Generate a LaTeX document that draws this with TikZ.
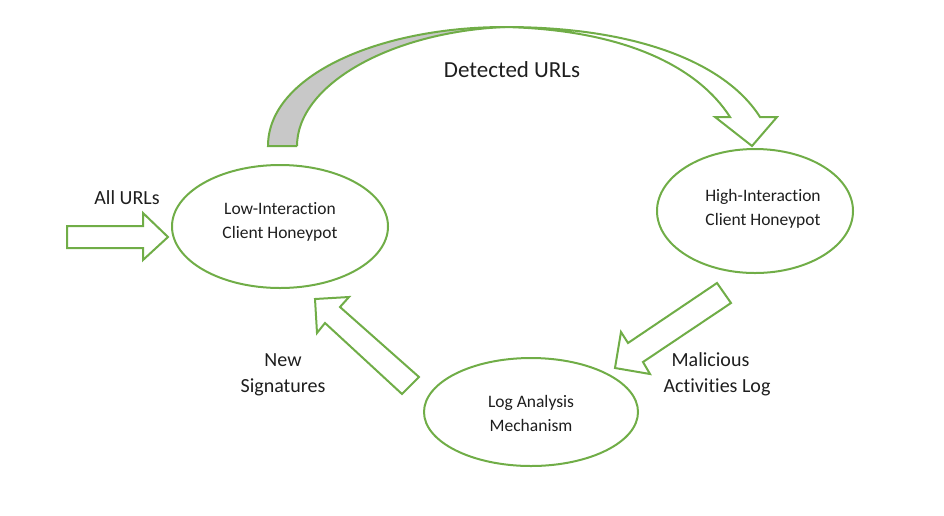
\documentclass[tikz,border=0pt]{standalone}
\usepackage{fontspec}
\setmainfont{Carlito}[Ligatures=CommonOff]
\usetikzlibrary{shapes.geometric}
\definecolor{grn}{RGB}{112,173,71}
\definecolor{shadegray}{RGB}{200,200,200}
\definecolor{txt}{RGB}{30,30,30}
\begin{document}
\begin{tikzpicture}[x=1pt,y=-1pt,
  ell/.style={draw=grn, line width=2pt, ellipse, inner sep=0pt},
  etext/.style={align=center, inner sep=0pt, text=txt, font=\fontsize{17.5}{24.5}\selectfont},
  blk/.style={draw=grn, line width=2pt, line join=miter, fill=white},
  lbl/.style={align=center, text=txt, font=\fontsize{20}{26}\selectfont}]
\useasboundingbox (0,0) rectangle (944,515);
% ellipses
\node[ell, minimum width=216pt, minimum height=123pt,
  label={[etext, yshift=4.5pt]center:Low-Interaction\\Client Honeypot}] (low) at (280,226.5) {};
\node[ell, minimum width=196pt, minimum height=124pt,
  label={[etext, yshift=2pt, xshift=8pt]center:High-Interaction\\Client Honeypot}] (high) at (755,211) {};
\node[ell, minimum width=214pt, minimum height=108pt,
  label={[etext, yshift=-1.5pt]center:Log Analysis\\Mechanism}] (log) at (531,412) {};
% curved arrow
\fill[shadegray] (268,146) .. controls (268,75) and (380,27) .. (505,27)
  .. controls (390,32) and (297,85) .. (297,146) -- cycle;
\draw[grn, line width=2pt, line join=miter]
  (297,146) -- (268,146) .. controls (268,75) and (380,27) .. (505,27)
  .. controls (635,27) and (725,62) .. (760,117) -- (777,117) -- (752,146)
  -- (715,117) -- (730,117) .. controls (700,70) and (630,30) .. (505,27);
\draw[grn, line width=2pt] (297,146) .. controls (297,85) and (390,32) .. (505,27);
% block arrows
\draw[blk] (67,226) -- (143,226) -- (143,213) -- (168,237) -- (143,260) -- (143,248) -- (67,248) -- cycle;
\draw[blk] (717,283) -- (731,303) -- (643,362) -- (650,374) -- (615,368) -- (621,332) -- (628,343) -- cycle;
\draw[blk] (315,299) -- (349,297) -- (340,307) -- (419,377) -- (402,394) -- (325,323) -- (317,333) -- cycle;
% labels
\node[lbl, font=\fontsize{23}{28}\selectfont] (det) at (512,70) {Detected URLs};
\node[lbl] (all) at (127,198) {All URLs};
\node[lbl] (newsig) at (283,375) {New\\Signatures};
\node[lbl] (mal) at (717,374) {Malicious\hspace*{13pt}\\Activities Log};
\end{tikzpicture}
\end{document}
